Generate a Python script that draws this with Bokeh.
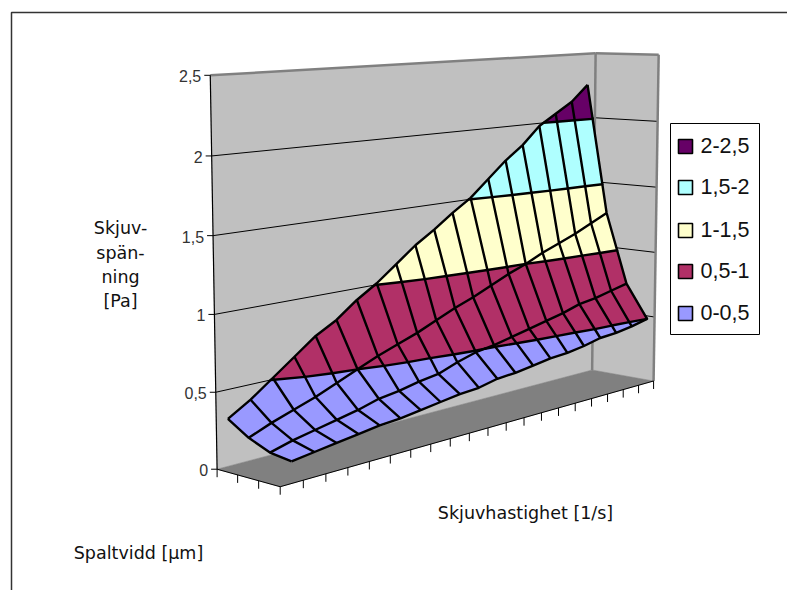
import numpy as np
from bokeh.core.properties import value
from bokeh.embed import file_html
from bokeh.plotting import figure
from bokeh.resources import INLINE

# Shear stress [Pa] per gap width (back to front) across 20 shear rates
gap_1 = [0.31, 0.40, 0.51, 0.62, 0.73, 0.81, 0.92, 1.01, 1.12, 1.23, 1.32, 1.42, 1.51, 1.63, 1.75, 1.85, 1.98, 2.06, 2.14, 2.26]
gap_2 = [0.22, 0.28, 0.33, 0.38, 0.44, 0.50, 0.56, 0.61, 0.66, 0.72, 0.78, 0.83, 0.89, 0.95, 1.00, 1.06, 1.11, 1.16, 1.22, 1.28]
gap_3 = [0.16, 0.20, 0.23, 0.26, 0.29, 0.33, 0.35, 0.38, 0.40, 0.45, 0.49, 0.51, 0.54, 0.57, 0.60, 0.63, 0.67, 0.69, 0.72, 0.75]
gap_4 = [0.14, 0.16, 0.18, 0.20, 0.22, 0.23, 0.25, 0.27, 0.29, 0.30, 0.33, 0.34, 0.36, 0.38, 0.39, 0.41, 0.44, 0.45, 0.47, 0.50]

z_ticks = [0, 0.5, 1, 1.5, 2, 2.5]
z_tick_labels = ["0", "0,5", "1", "1,5", "2", "2,5"]
band_limits = [(0, 0.5), (0.5, 1), (1, 1.5), (1.5, 2), (2, 2.5)]
band_labels = ["0-0,5", "0,5-1", "1-1,5", "1,5-2", "2-2,5"]
band_colors = ["#9999FF", "#B13067", "#FFFFCC", "#AFFFFF", "#660066"]

# Perspective camera: (shear position, gap position, stress, 1) -> screen
CAMERA = np.array([
    [520.304423, 53.043149, -5.161626, 216.603393],
    [-8.527281, 0.046767, -158.426385, 468.705146],
    [0.245511, -0.035938, -0.011576, 1.0],
])


def project(u, v, z):
    h = CAMERA @ np.array([u, v, z, 1.0])
    return float(h[0] / h[2]), float(h[1] / h[2])


surface = np.array([gap_1, gap_2, gap_3, gap_4])
rows, cols = surface.shape
node_xy = [[project((i + 0.5) / cols, j / (rows - 1), surface[j, i]) for i in range(cols)] for j in range(rows)]


def clip(poly, level, keep_above):
    # Sutherland-Hodgman against one stress level; vertices are (x, y, z)
    out = []
    for k, a in enumerate(poly):
        b = poly[(k + 1) % len(poly)]
        a_in = a[2] >= level if keep_above else a[2] <= level
        b_in = b[2] >= level if keep_above else b[2] <= level
        if a_in:
            out.append(a)
        if a_in != b_in:
            t = (level - a[2]) / (b[2] - a[2])
            out.append((a[0] + t * (b[0] - a[0]), a[1] + t * (b[1] - a[1]), level))
    return out


fill_xs, fill_ys, fill_colors = [], [], []
contour_xs, contour_ys = [], []
for j in range(rows - 1):
    for i in range(cols - 1):
        corners = [(j, i), (j, i + 1), (j + 1, i + 1), (j + 1, i)]
        quad = [(*node_xy[a][b], surface[a, b]) for a, b in corners]
        for (lo, hi), color in zip(band_limits, band_colors):
            piece = clip(quad, lo, True)
            if piece:
                piece = clip(piece, hi, False)
            if len(piece) >= 3:
                fill_xs.append([q[0] for q in piece])
                fill_ys.append([q[1] for q in piece])
                fill_colors.append(color)
        for level in [lim[1] for lim in band_limits[:-1]]:
            hits = []
            for k, a in enumerate(quad):
                b = quad[(k + 1) % 4]
                if (a[2] >= level) != (b[2] >= level):
                    t = (level - a[2]) / (b[2] - a[2])
                    hits.append((a[0] + t * (b[0] - a[0]), a[1] + t * (b[1] - a[1])))
            for h1, h2 in zip(hits[0::2], hits[1::2]):
                contour_xs.append([h1[0], h2[0]])
                contour_ys.append([h1[1], h2[1]])

p = figure(width=787, height=590, x_range=(0, 787), y_range=(590, 0),
           output_backend="svg", toolbar_location=None, min_border=0,
           outline_line_color=None, background_fill_color="white")
p.axis.visible = False
p.grid.visible = False

# Chart area frame, running off the page at right and bottom
p.line([11, 11, 800], [600, 12, 12], line_color="#333333", line_width=1.5)


def box_side(c1, c2, c3, c4, fill):
    pts = [project(*c) for c in (c1, c2, c3, c4)]
    p.patch([q[0] for q in pts], [q[1] for q in pts], fill_color=fill, line_color=fill, line_width=0.5)


ZMAX = z_ticks[-1]
box_side((0, 0, 0), (1, 0, 0), (1, 0, ZMAX), (0, 0, ZMAX), "#C0C0C0")
box_side((1, 0, 0), (1, 1, 0), (1, 1, ZMAX), (1, 0, ZMAX), "#C0C0C0")
box_side((0, 0, 0), (1, 0, 0), (1, 1, 0), (0, 1, 0), "#808080")


def segment(c1, c2, color, width):
    a, b = project(*c1), project(*c2)
    p.line([a[0], b[0]], [a[1], b[1]], line_color=color, line_width=width)


# Gridlines on the back and side walls
for z in z_ticks[1:-1]:
    segment((0, 0, z), (1, 0, z), "#000000", 1)
    segment((1, 0, z), (1, 1, z), "#000000", 1)

# Wall borders
segment((0, 0, ZMAX), (1, 0, ZMAX), "#808080", 2.5)
segment((1, 0, ZMAX), (1, 1, ZMAX), "#808080", 2.5)
segment((1, 0, 0), (1, 0, ZMAX), "#808080", 2.5)
segment((1, 1, 0), (1, 1, ZMAX), "#808080", 2.5)

# Value axis with its ticks and labels
segment((0, 0, 0), (0, 0, ZMAX), "#000000", 1.2)
for z, label in zip(z_ticks, z_tick_labels):
    x, y = project(0, 0, z)
    p.line([x - 6, x], [y, y], line_color="#000000", line_width=1)
    p.text([x - 9], [y + 1], text=[label], text_font=value("Liberation Sans"), text_font_size="16px",
           text_color="#333333", text_align="right", text_baseline="middle")

# Floor edges and their ticks
segment((0, 0, 0), (0, 1, 0), "#000000", 1)
segment((0, 1, 0), (1, 1, 0), "#000000", 1)
for k in range(4):
    x, y = project(0, k / 3, 0)
    p.line([x, x], [y, y + 8], line_color="#000000", line_width=1)
for k in range(1, 21):
    x, y = project(k / 20, 1, 0)
    p.line([x, x], [y, y + 8], line_color="#000000", line_width=1)

# Surface: coloured stress bands, then mesh and contour lines
p.patches(fill_xs, fill_ys, fill_color=fill_colors, line_color=fill_colors, line_width=0.4)
mesh_xs = [[node_xy[j][i][0] for i in range(cols)] for j in range(rows)] + \
          [[node_xy[j][i][0] for j in range(rows)] for i in range(cols)]
mesh_ys = [[node_xy[j][i][1] for i in range(cols)] for j in range(rows)] + \
          [[node_xy[j][i][1] for j in range(rows)] for i in range(cols)]
p.multi_line(contour_xs, contour_ys, line_color="#000000", line_width=2.4, line_cap="round")
p.multi_line(mesh_xs, mesh_ys, line_color="#000000", line_width=2.4, line_join="round")

# Legend
p.quad(left=[670], right=[759], top=[123], bottom=[334], fill_color="white", line_color="#000000", line_width=1)
legend_y = [313, 271, 230, 187, 146]
for y, label, color in zip(legend_y, band_labels, band_colors):
    p.quad(left=[678], right=[692], top=[y - 7], bottom=[y + 7], fill_color=color, line_color="#000000", line_width=1.6)
    p.text([700], [y - 1], text=[label], text_font=value("Liberation Sans"), text_font_size="21.5px",
           text_color="#111111", text_align="left", text_baseline="middle")

# Axis titles
title_style = dict(text_font=value("DejaVu Sans"), text_font_size="17.5px", text_color="#111111",
                   text_baseline="middle", text_align="center")
for y, line in zip([227, 252, 276, 300], ["Skjuv-", "spän-", "ning", "[Pa]"]):
    p.text([120], [y], text=[line], **title_style)
p.text([525], [512], text=["Skjuvhastighet [1/s]"], **title_style)
p.text([138], [552], text=["Spaltvidd [µm]"], **title_style)

open("out.html", "w").write(file_html(p, INLINE))
